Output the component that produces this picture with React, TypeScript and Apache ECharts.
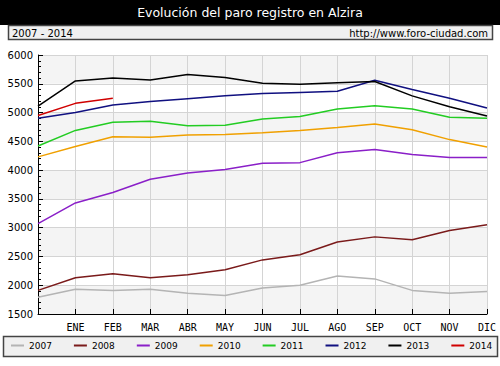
import React, { useEffect, useRef } from "react";
import * as echarts from "echarts";

const months = ["", "ENE", "FEB", "MAR", "ABR", "MAY", "JUN", "JUL", "AGO", "SEP", "OCT", "NOV", "DIC"];
const years = ["2007", "2008", "2009", "2010", "2011", "2012", "2013", "2014"];
const colors = ["#b4b4b4", "#7a1a1a", "#8a1fc8", "#f0a000", "#22cc22", "#101080", "#000000", "#d00000"];

const v2007 = [1790, 1930, 1910, 1930, 1860, 1820, 1950, 2000, 2160, 2110, 1910, 1860, 1890];
const v2008 = [1910, 2130, 2200, 2130, 2180, 2270, 2440, 2530, 2750, 2840, 2790, 2950, 3050];
const v2009 = [3070, 3430, 3610, 3840, 3950, 4010, 4120, 4130, 4300, 4360, 4270, 4220, 4220];
const v2010 = [4230, 4410, 4580, 4570, 4610, 4620, 4650, 4690, 4740, 4800, 4700, 4530, 4400];
const v2011 = [4420, 4690, 4830, 4850, 4770, 4780, 4890, 4930, 5060, 5120, 5060, 4920, 4900];
const v2012 = [4900, 5000, 5130, 5190, 5240, 5290, 5330, 5350, 5370, 5560, 5400, 5250, 5080];
const v2013 = [5110, 5550, 5600, 5565, 5660, 5610, 5510, 5490, 5520, 5540, 5290, 5100, 4940];
const v2014 = [4950, 5160, 5250];

const seriesValues = [v2007, v2008, v2009, v2010, v2011, v2012, v2013, v2014];

const FONT = "DejaVu Sans";

export default function App() {
  const ref = useRef<HTMLDivElement>(null);
  useEffect(() => {
    document.body.style.margin = "0";
    const chart = echarts.init(ref.current!, null, { renderer: "svg" });
    chart.setOption({
      animation: false,
      backgroundColor: "#ffffff",
      grid: { left: 38, right: 13, top: 55, bottom: 52, show: false },
      xAxis: {
        type: "category",
        data: months,
        boundaryGap: false,
        axisLine: { lineStyle: { color: "#000", width: 1 } },
        axisTick: { show: true, inside: true, length: 5, lineStyle: { color: "#000" } },
        axisLabel: { color: "#000", fontFamily: "DejaVu Sans Mono", fontSize: 10, margin: 8 },
        splitLine: { show: true, lineStyle: { color: "#d4d4d4", width: 1 } },
      },
      yAxis: {
        type: "value",
        min: 1500,
        max: 6000,
        interval: 500,
        axisLine: { show: true, lineStyle: { color: "#000", width: 1 } },
        axisTick: { show: true, inside: true, length: 5, lineStyle: { color: "#000" } },
        minorTick: { show: true, splitNumber: 5, length: 3, lineStyle: { color: "#000" } },
        axisLabel: { color: "#000", fontFamily: FONT, fontSize: 10, margin: 5, formatter: (v: number) => String(v) },
        splitLine: { show: true, lineStyle: { color: "#d4d4d4", width: 1 } },
        splitArea: { show: true, areaStyle: { color: ["#f4f4f4", "#ffffff"] } },
      },
      legend: {
        top: 341,
        left: 11,
        width: 490,
        itemWidth: 13,
        itemHeight: 2,
        itemGap: 22,
        icon: "rect",
        padding: 0,
        textStyle: { color: "#000", fontFamily: FONT, fontSize: 9 },
        data: years,
      },
      series: years.map((y, i) => ({
        name: y,
        type: "line",
        data: seriesValues[i],
        showSymbol: false,
        symbol: "none",
        lineStyle: { color: colors[i], width: 1.5 },
        itemStyle: { color: colors[i] },
        z: 3 + i,
      })),
      graphic: [
        { type: "rect", shape: { x: 0, y: 0, width: 500, height: 25 }, style: { fill: "#000" }, z: -10 },
        {
          type: "text",
          x: 250,
          y: 12.5,
          style: { text: "Evolución del paro registro en Alzira", fill: "#fff", font: `12.5px ${FONT}`, textAlign: "center", textVerticalAlign: "middle" },
        },
        { type: "rect", shape: { x: 8.5, y: 25.5, width: 484, height: 14 }, style: { fill: "#f0f0f0", stroke: "#444", lineWidth: 1.5 }, z: -10 },
        { type: "text", x: 12, y: 33, style: { text: "2007 - 2014", fill: "#000", font: `10px ${FONT}`, textVerticalAlign: "middle" } },
        { type: "text", x: 488, y: 33, style: { text: "http://www.foro-ciudad.com", fill: "#000", font: `10px ${FONT}`, textAlign: "right", textVerticalAlign: "middle" } },
        { type: "rect", shape: { x: 3.5, y: 336.5, width: 494, height: 20 }, style: { fill: "#f0f0f0", stroke: "#444", lineWidth: 1.5 }, z: -10 },
      ],
    });
    return () => chart.dispose();
  }, []);
  return <div ref={ref} style={{ width: 500, height: 366 }} />;
}
